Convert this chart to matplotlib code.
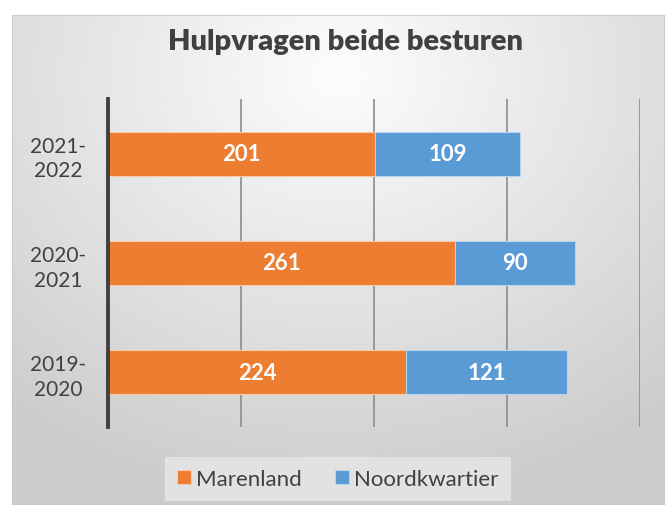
import numpy as np
import matplotlib
matplotlib.use("Agg")
from matplotlib import pyplot as plt
from matplotlib.patches import Rectangle

years = ["2019-\n2020", "2020-\n2021", "2021-\n2022"]
marenland = [224, 261, 201]
noordkwartier = [121, 90, 109]

orange = "#ED7D31"
blue = "#5B9BD5"
text_col = "#404040"

plt.rcParams['font.family'] = ['Lato', 'DejaVu Sans']

fig = plt.figure(figsize=(6.65, 5.06), dpi=100)
fig.patch.set_facecolor("white")

# chart area background with a soft radial gradient
bg = fig.add_axes([12 / 665, 0, 1 - 12 / 665, 1 - 16 / 506], zorder=-10)
yy, xx = np.mgrid[0:1:300j, 0:1:400j]
r = np.sqrt(((xx - 0.5) * 1.0) ** 2 + ((yy - 0.12) * 0.9) ** 2)
shade = np.clip(0.99 - 0.24 * r, 0.80, 0.99)
bg.imshow(shade, cmap="gray", vmin=0, vmax=1, aspect="auto", extent=[0, 1, 1, 0])
bg.set_axis_off()
bg.add_patch(Rectangle((0, 0), 1, 1, transform=bg.transAxes, fill=False,
                       edgecolor="#c8c8c8", lw=1.2))

ax = fig.add_axes([108 / 665, 1 - 428 / 506, 532 / 665, 328 / 506])
ax.set_facecolor("none")
y = np.arange(len(years))
h = 0.4
b1 = ax.barh(y, marenland, height=h, color=orange, edgecolor="#f6c9a9", lw=0.8,
             label="Marenland", zorder=3)
b2 = ax.barh(y, noordkwartier, left=marenland, height=h, color=blue,
             edgecolor="#b9d4ee", lw=0.8, label="Noordkwartier", zorder=3)
for bars in (b1, b2):
    ax.bar_label(bars, label_type="center", color="white", fontsize=16,
                 fontweight="bold")

ax.set_xlim(0, 400)
ax.set_ylim(-0.5, 2.5)
ax.set_xticks([100, 200, 300, 400])
ax.tick_params(axis="x", length=0, labelbottom=False)
ax.grid(axis="x", color="#8c8c8c", lw=1.2, zorder=0)
ax.set_yticks(y)
ax.set_yticklabels(years, fontsize=15, color=text_col, ha="center", linespacing=1.3)
ax.tick_params(axis="y", length=0, pad=36)
for s in ["top", "right", "bottom"]:
    ax.spines[s].set_visible(False)
ax.spines["left"].set_color(text_col)
ax.spines["left"].set_linewidth(2.8)
ax.spines["left"].set_zorder(4)

fig.text(346 / 665, 1 - 42 / 506, "Hulpvragen beide besturen", ha="center",
         va="center", fontsize=21, fontweight="heavy", color=text_col)

leg = fig.legend(loc="center", bbox_to_anchor=(338 / 665, 1 - 480 / 506), ncol=2,
                 fontsize=16, frameon=True, fancybox=False, handlelength=0.6,
                 handleheight=0.6, handletextpad=0.25, columnspacing=1.5,
                 borderpad=0.55)
leg.get_frame().set_facecolor("#e2e2e2")
leg.get_frame().set_edgecolor("none")
leg.get_frame().set_alpha(1)
for t in leg.get_texts():
    t.set_color(text_col)

fig.savefig("out.png", dpi=100)
